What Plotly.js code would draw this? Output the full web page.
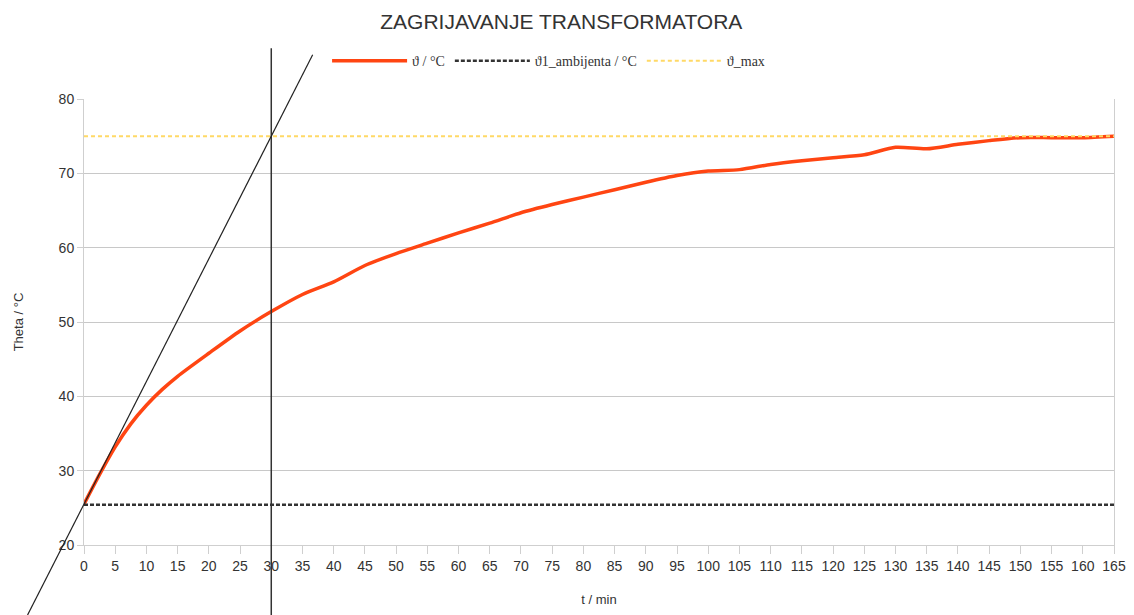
<!DOCTYPE html>
<html>
<head>
<meta charset="utf-8">
<script src="https://cdn.plot.ly/plotly-3.0.1.min.js"></script>
<style>html,body{margin:0;padding:0;background:#fff;}#chart{width:1134px;height:615px;}</style>
</head>
<body>
<div id="chart"></div>
<script>
// time in minutes
const tMin = [0,2.5,5,7.5,10,12.5,15,20,25,30,35,40,45,50,55,60,65,70,75,80,85,90,95,100,105,110,115,120,125,130,135,140,145,150,155,160,165];
// measured temperature (°C)
const theta = [25.5,29.5,33.2,36.3,38.8,40.9,42.7,45.8,48.8,51.4,53.7,55.4,57.6,59.2,60.6,62.0,63.3,64.7,65.8,66.8,67.8,68.8,69.7,70.3,70.5,71.2,71.7,72.1,72.5,73.5,73.3,73.9,74.4,74.8,74.8,74.8,75.0];
const thetaAmbient = 25.4;
const thetaMax = 75;
const timeConstant = 30;
const xTicks = [0,5,10,15,20,25,30,35,40,45,50,55,60,65,70,75,80,85,90,95,100,105,110,115,120,125,130,135,140,145,150,155,160,165];
const yTicks = [20,30,40,50,60,70,80];

const xRange = [0,165], yRange = [20,80];
const xEnds = [xRange[0], xRange[1]];

const traces = [
  {x: tMin, y: theta, type:'scatter', mode:'lines', name:'ϑ / °C',
   line:{color:'#ff4512', width:3.5, shape:'spline', smoothing:0.7}},
  {x: xEnds, y:[thetaAmbient, thetaAmbient], type:'scatter', mode:'lines', name:'ϑ1_ambijenta / °C',
   line:{color:'#333333', width:2.5, dash:'4px,2px'}},
  {x: xEnds, y:[thetaMax, thetaMax], type:'scatter', mode:'lines', name:'ϑ_max',
   line:{color:'#ffd966', width:2, dash:'4px,3px'}}
];

// tangent at t=0 reaching thetaMax at t = timeConstant, drawn in paper coordinates
const slope = (thetaMax - theta[0]) / timeConstant;
const px = t => (t - xRange[0])/(xRange[1]-xRange[0]);
const pyBottom = -0.157, pyTop = 1.099;
const vAt = p => yRange[0] + p*(yRange[1]-yRange[0]);
const tAt = v => (v - theta[0]) / slope;

const layout = {
  width:1134, height:615,
  margin:{l:84, r:20, t:99, b:70},
  paper_bgcolor:'#fff', plot_bgcolor:'#fff',
  font:{family:'Liberation Sans, Arial, sans-serif', color:'#333'},
  title:{text:'ZAGRIJAVANJE TRANSFORMATORA', x:0.495, xanchor:'center', y:0.965, yanchor:'middle',
         font:{size:21, color:'#333', family:'Liberation Sans, Arial, sans-serif'}},
  showlegend:true,
  legend:{orientation:'h', x:0.236, xanchor:'left', y:1.085, yanchor:'middle',
          font:{family:'Liberation Serif, Times New Roman, serif', size:14, color:'#333'},
          itemwidth:75, bgcolor:'rgba(0,0,0,0)', tracegroupgap:0},
  xaxis:{range:xRange, tickvals:xTicks, ticktext:xTicks.map(String), showgrid:false, zeroline:false,
         showline:true, linecolor:'#cfcfcf', linewidth:1, ticks:'outside', ticklen:8, tickcolor:'#cfcfcf',
         tickfont:{size:14, color:'#333'},
         title:{text:'t / min', font:{size:13, color:'#333'}, standoff:22}},
  yaxis:{range:yRange, tickvals:yTicks, showgrid:true, gridcolor:'#c8c8c8', gridwidth:1, zeroline:false,
         showline:true, mirror:true, linecolor:'#cfcfcf', linewidth:1, ticks:'outside', ticklen:6, tickcolor:'#cfcfcf',
         tickfont:{size:14, color:'#333'},
         title:{text:'Theta / °C', font:{size:13, color:'#333'}, standoff:32}},
  shapes:[
    {type:'line', xref:'x', yref:'paper', x0:timeConstant, x1:timeConstant, y0:-0.2, y1:1.114,
     line:{color:'#333', width:1.5}},
    {type:'line', xref:'paper', yref:'paper',
     x0:px(tAt(vAt(pyBottom))), y0:pyBottom, x1:px(tAt(vAt(pyTop))), y1:pyTop,
     line:{color:'#222', width:1.2}}
  ]
};

Plotly.newPlot('chart', traces, layout, {displayModeBar:false, staticPlot:true});
</script>
</body>
</html>
